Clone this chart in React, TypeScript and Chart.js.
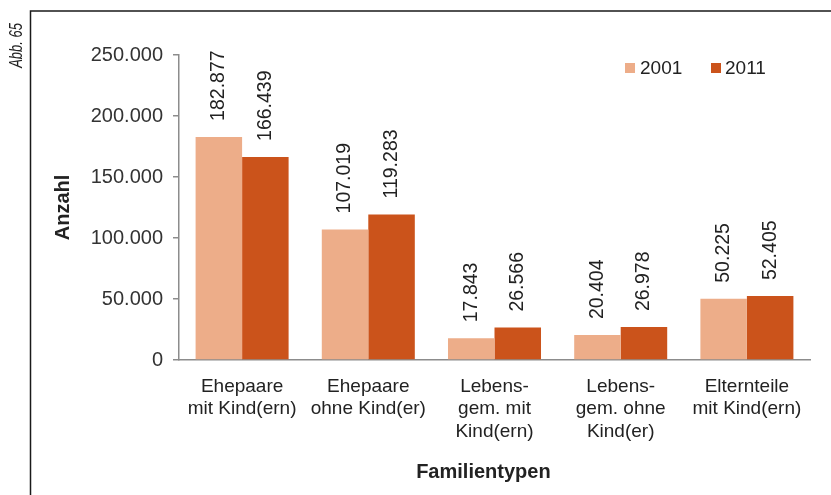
import React, { useEffect, useRef } from "react";
import { Chart, registerables } from "chart.js";

Chart.register(...registerables);

const categories: string[][] = [
  ["Ehepaare", "mit Kind(ern)"],
  ["Ehepaare", "ohne Kind(er)"],
  ["Lebens-", "gem. mit", "Kind(ern)"],
  ["Lebens-", "gem. ohne", "Kind(er)"],
  ["Elternteile", "mit Kind(ern)"],
];
const seriesLabels = ["2001", "2011"];
const values2001 = [182877, 107019, 17843, 20404, 50225];
const values2011 = [166439, 119283, 26566, 26978, 52405];
const yTicks = [0, 50000, 100000, 150000, 200000, 250000];

const FONT = '"Liberation Sans", Arial, Helvetica, sans-serif';
const C2001 = "#EDAD89";
const C2011 = "#CB531B";
const TEXT = "#222222";

const fmt = (n: number) => String(n).replace(/\B(?=(\d{3})+(?!\d))/g, ".");

const decorPlugin = {
  id: "decor",
  afterDatasetsDraw(chart: any) {
    const ctx = chart.ctx;
    ctx.save();
    ctx.font = `19.5px ${FONT}`;
    ctx.fillStyle = TEXT;
    ctx.textAlign = "left";
    ctx.textBaseline = "middle";
    chart.data.datasets.forEach((ds: any, di: number) => {
      const meta = chart.getDatasetMeta(di);
      meta.data.forEach((el: any, i: number) => {
        ctx.save();
        ctx.translate(el.x, el.y - 16);
        ctx.rotate(-Math.PI / 2);
        ctx.fillText(fmt(ds.data[i]), 0, 0);
        ctx.restore();
      });
    });
    ctx.restore();
  },
  afterDraw(chart: any) {
    const ctx = chart.ctx;
    ctx.save();
    // frame
    ctx.strokeStyle = "#1a1a1a";
    ctx.lineWidth = 1.5;
    ctx.beginPath();
    ctx.moveTo(30.5, chart.height);
    ctx.lineTo(30.5, 11);
    ctx.lineTo(chart.width, 11);
    ctx.stroke();
    // Abb. label (condensed italic)
    ctx.font = `italic 18px ${FONT}`;
    ctx.fillStyle = TEXT;
    ctx.textAlign = "center";
    ctx.textBaseline = "middle";
    ctx.save();
    ctx.translate(17, 45.5);
    ctx.rotate(-Math.PI / 2);
    ctx.scale(0.72, 1);
    ctx.fillText("Abb. 65", 0, 0);
    ctx.restore();
    // legend
    const items = [
      { x: 625, tx: 640 },
      { x: 711, tx: 725 },
    ];
    ctx.font = `19px ${FONT}`;
    ctx.textAlign = "left";
    chart.data.datasets.forEach((ds: any, di: number) => {
      const it = items[di];
      ctx.fillStyle = ds.backgroundColor;
      ctx.fillRect(it.x, 63, 10, 10);
      ctx.fillStyle = TEXT;
      ctx.fillText(ds.label, it.tx, 68.5);
    });
    ctx.restore();
  },
};

export default function App() {
  const ref = useRef<HTMLCanvasElement | null>(null);
  useEffect(() => {
    if (!ref.current) return;
    const chart = new Chart(ref.current, {
      type: "bar",
      data: {
        labels: categories,
        datasets: [
          { label: seriesLabels[0], data: values2001, backgroundColor: C2001, categoryPercentage: 0.737, barPercentage: 1 },
          { label: seriesLabels[1], data: values2011, backgroundColor: C2011, categoryPercentage: 0.737, barPercentage: 1 },
        ],
      },
      options: {
        responsive: false,
        animation: false,
        devicePixelRatio: 1,
        layout: { padding: { left: 40, right: 21, top: 55, bottom: 0 } },
        plugins: {
          legend: { display: false },
          tooltip: { enabled: false },
        },
        scales: {
          x: {
            grid: { display: true, drawOnChartArea: false, drawTicks: false },
            border: { display: true, color: "#8c8c8c", width: 1.5 },
            ticks: {
              font: { family: FONT, size: 19, lineHeight: 1.2 },
              color: TEXT,
              padding: 15,
              maxRotation: 0,
              autoSkip: false,
            },
            title: {
              display: true,
              text: "Familientypen    ",
              font: { family: FONT, size: 20, weight: "bold", lineHeight: 1.2 },
              color: TEXT,
              padding: { top: 0, bottom: 11 },
            },
            afterFit: (s: any) => {
              s.height = 135;
            },
          },
          y: {
            min: 0,
            max: 250000,
            afterBuildTicks: (s: any) => {
              s.ticks = yTicks.map((v) => ({ value: v }));
            },
            grid: { display: true, drawOnChartArea: false, drawTicks: true, tickLength: 6, color: "#8c8c8c", lineWidth: 1.5 },
            border: { display: true, color: "#8c8c8c", width: 1.5 },
            ticks: {
              font: { family: FONT, size: 20 },
              color: "#333333",
              padding: 10,
              callback: (v: any) => fmt(Number(v)),
            },
            title: {
              display: true,
              text: "Anzahl",
              font: { family: FONT, size: 20, weight: "bold", lineHeight: 1.2 },
              color: TEXT,
              padding: { top: 11.5, bottom: 0 },
            },
            afterFit: (s: any) => {
              s.width = 139;
            },
          },
        },
      },
      plugins: [decorPlugin],
    } as any);
    return () => chart.destroy();
  }, []);
  return (
    <div style={{ position: "fixed", left: 0, top: 0, width: 831, height: 495, background: "#fff" }}>
      <canvas ref={ref} width={831} height={495} style={{ display: "block", width: 831, height: 495 }} />
    </div>
  );
}
